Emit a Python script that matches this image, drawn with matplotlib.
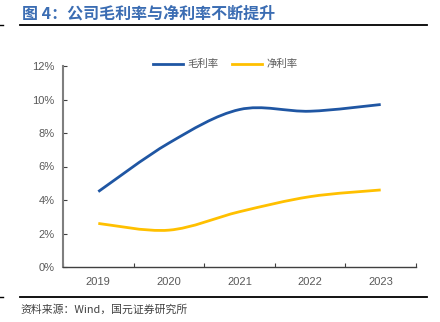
import numpy as np
import matplotlib
matplotlib.use("Agg")
from matplotlib import pyplot as plt
from matplotlib.path import Path
from matplotlib.patches import PathPatch
from matplotlib.lines import Line2D
from matplotlib.ticker import FuncFormatter

years = ['2019', '2020', '2021', '2022', '2023']
gross_margin = [4.5, 7.4, 9.4, 9.3, 9.7]
net_margin = [2.6, 2.2, 3.3, 4.2, 4.6]

blue = '#1F56A3'
yellow = '#FFC000'
grey = '#595959'

plt.rcParams['font.family'] = ['Liberation Sans', 'Noto Sans CJK SC', 'DejaVu Sans']
cjk = ['Noto Sans CJK SC', 'DejaVu Sans']


def smooth_path(xs, ys):
    # excel style smoothed line: catmull-rom as cubic bezier
    pts = np.column_stack([xs, ys]).astype(float)
    n = len(pts)
    verts = [pts[0]]
    codes = [Path.MOVETO]
    for i in range(n - 1):
        p0 = pts[max(i - 1, 0)]
        p1 = pts[i]
        p2 = pts[i + 1]
        p3 = pts[min(i + 2, n - 1)]
        c1 = p1 + (p2 - p0) / 6.0
        c2 = p2 - (p3 - p1) / 6.0
        verts += [c1, c2, p2]
        codes += [Path.CURVE4] * 3
    return Path(verts, codes)


fig = plt.figure(figsize=(4.4, 3.22), dpi=100)
ax = fig.add_axes([63 / 440, 1 - 267 / 322, (416 - 63) / 440, (267 - 66) / 322])

x = np.arange(len(years)) + 0.5
for vals, col in [(gross_margin, blue), (net_margin, yellow)]:
    patch = PathPatch(smooth_path(x, vals), facecolor='none', edgecolor=col,
                      lw=2.0, capstyle='butt')
    ax.add_patch(patch)

ax.set_xlim(0, len(years))
ax.set_ylim(0, 12)
ax.set_yticks(np.arange(0, 13, 2))
ax.yaxis.set_major_formatter(FuncFormatter(lambda v, p: '{:.0f}%'.format(v)))
ax.set_xticks(np.arange(0, len(years) + 1))
ax.set_xticklabels([])
ax.set_xticks(x, minor=True)
ax.set_xticklabels(years, minor=True)
ax.tick_params(axis='x', which='minor', length=0, labelsize=8, labelcolor=grey, pad=7)
ax.tick_params(axis='x', which='major', direction='in', length=3, color='#404040')
ax.tick_params(axis='y', direction='in', length=3, labelsize=8, labelcolor=grey,
               color='#404040', pad=6)

for s in ['top', 'right']:
    ax.spines[s].set_visible(False)
ax.spines['left'].set_color('#7F7F7F')
ax.spines['left'].set_linewidth(1.5)
ax.spines['bottom'].set_color('#404040')
ax.spines['bottom'].set_linewidth(1.0)

handles = [Line2D([], [], color=blue, lw=2.0), Line2D([], [], color=yellow, lw=2.0)]
leg = ax.legend(handles, ['毛利率', '净利率'], loc='upper center', ncol=2, frameon=False,
                bbox_to_anchor=(0.46, 1.08), handlelength=2.9, columnspacing=1.3,
                handletextpad=0.4, prop={'family': cjk, 'size': 7.5, 'weight': 'light'})
for t in leg.get_texts():
    t.set_color(grey)

fig.text(22 / 440, 1 - 14 / 322, '图 4：公司毛利率与净利率不断提升', family=cjk,
         fontsize=11.5, fontweight='bold', color='#3B6DB3', va='center', ha='left')
fig.add_artist(Line2D([20 / 440, 427 / 440], [1 - 24.5 / 322] * 2, color='black', lw=1.3))
fig.add_artist(Line2D([0, 3 / 440], [1 - 24.5 / 322] * 2, color='black', lw=1.0))
fig.add_artist(Line2D([20 / 440, 427 / 440], [1 - 297 / 322] * 2, color='black', lw=1.3))
fig.add_artist(Line2D([0, 3 / 440], [1 - 297 / 322] * 2, color='black', lw=1.0))
fig.text(20 / 440, 1 - 310 / 322, '资料来源：Wind，国元证券研究所', family=cjk,
         fontsize=7.8, weight='light', color='#404040', va='center', ha='left')

fig.savefig('out.png', dpi=100)
